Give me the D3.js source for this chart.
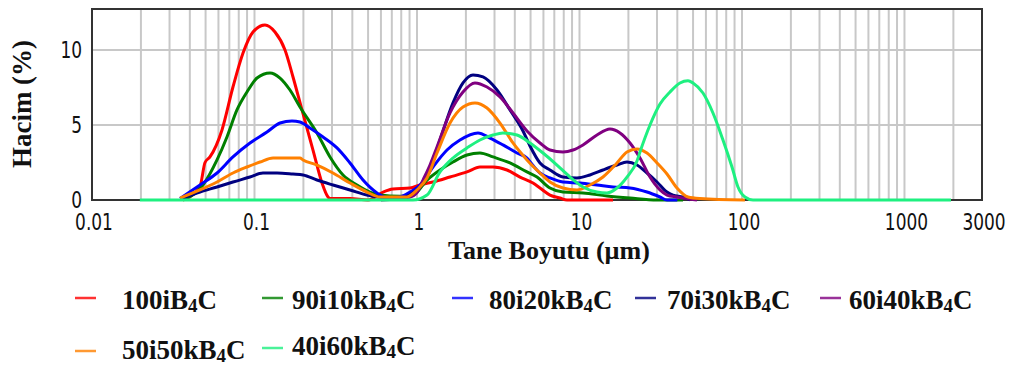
<!DOCTYPE html>
<html>
<head>
<meta charset="utf-8">
<script src="https://cdn.jsdelivr.net/npm/d3@7"></script>
<style>
  html, body { margin: 0; padding: 0; background: #fff; }
  svg { display: block; }
</style>
</head>
<body>
<svg id="chart" width="1017" height="365"></svg>
<script>
// Particle size distributions (size in µm, volume in %)
const sizeTicks = [0.01, 0.1, 1, 10, 100, 1000, 3000];
const volumeTicks = [0, 5, 10];

const seriesNames = ["100iB4C", "90i10kB4C", "80i20kB4C", "70i30kB4C", "60i40kB4C", "50i50kB4C", "40i60kB4C"];
const seriesColors = ["#ff0000", "#008000", "#0000ff", "#000080", "#800080", "#ff8000", "#1ef080"];

const s100i = [
  [0.0363, 0], [0.0462, 0.9], [0.0496, 2.5], [0.0532, 2.87], [0.0631, 4.67], [0.0737, 7.53],
  [0.085, 9.8], [0.0979, 11.2], [0.116, 11.67], [0.1337, 11.2], [0.1541, 10.0], [0.1726, 8.2],
  [0.196, 6.0], [0.2291, 3.33], [0.2603, 1.13], [0.2834, 0.2], [0.2915, 0.1], [0.387, 0.1],
  [0.5, 0], [0.6178, 0.53], [0.712, 0.73], [0.906, 0.8], [1.0435, 1.0], [1.2546, 1.2],
  [1.5964, 1.53], [2.031, 1.87], [2.4418, 2.2], [2.936, 2.2], [3.5805, 2.0], [4.3042, 1.53],
  [5.1748, 1.13], [5.714, 0.8], [6.5846, 0.33], [7.5858, 0.13], [8.3788, 0], [16.08, 0]
];
const s90i10k = [
  [0.0363, 0], [0.0482, 1.0], [0.0588, 2.67], [0.0677, 4.2], [0.078, 6.0], [0.0899, 7.2],
  [0.1036, 8.13], [0.1246, 8.47], [0.1436, 8.13], [0.1654, 7.33], [0.1905, 6.2], [0.2424, 4.47],
  [0.2915, 2.87], [0.3505, 1.67], [0.4273, 1.0], [0.5138, 0.53], [0.592, 0.33], [0.786, 0.25],
  [0.945, 0.33], [1.1522, 1.33], [1.3856, 2.0], [1.6657, 2.53], [2.031, 3.0], [2.4418, 3.13],
  [2.936, 2.87], [3.7365, 2.47], [4.7531, 1.87], [5.4768, 1.53], [6.5846, 0.8], [7.9163, 0.53],
  [10.51, 0.47], [14.76, 0.27], [20.46, 0.13], [29.99, 0], [43.35, 0]
];
const s80i20k = [
  [0.0348, 0.1], [0.0462, 1.0], [0.0588, 1.8], [0.0737, 2.87], [0.0938, 3.8], [0.1194, 4.53],
  [0.1436, 5.13], [0.1701, 5.27], [0.1905, 5.2], [0.2195, 4.8], [0.264, 4.2], [0.3219, 3.47],
  [0.387, 2.47], [0.4654, 1.33], [0.5674, 0.47], [0.6538, 0.13], [0.786, 0.2], [0.906, 0.53],
  [1.0435, 1.0], [1.2546, 2.2], [1.5298, 3.33], [1.839, 4.0], [2.3737, 4.47], [2.8136, 4.13],
  [3.383, 3.67], [4.1262, 3.13], [4.7531, 2.8], [5.1748, 2.3], [5.714, 1.8], [6.5846, 1.47],
  [7.9163, 1.2], [10.07, 1.13], [12.81, 1.0], [16.08, 0.87], [20.46, 0.8], [26.03, 0.53],
  [31.29, 0.2], [34.55, 0], [40, 0]
];
const s70i30k = [
  [0.0363, 0.13], [0.0462, 0.53], [0.0588, 0.87], [0.0737, 1.2], [0.0938, 1.53], [0.1128, 1.8],
  [0.1376, 1.8], [0.1726, 1.73], [0.1989, 1.67], [0.2424, 1.33], [0.3041, 1.0], [0.387, 0.67],
  [0.4924, 0.33], [0.5674, 0.2], [0.786, 0.13], [0.945, 0.47], [1.1522, 1.53], [1.3856, 4.0],
  [1.6657, 6.47], [1.919, 7.8], [2.2113, 8.33], [2.5479, 8.2], [3.1075, 7.33], [3.7365, 6.0],
  [4.4916, 4.6], [4.96, 3.6], [5.714, 2.47], [6.5846, 2.0], [7.9163, 1.53], [9.652, 1.47],
  [11.6, 1.67], [13.95, 2.0], [17.01, 2.33], [19.6, 2.53], [22.59, 2.33], [26.03, 1.8],
  [29.99, 1.2], [34.55, 0.53], [37.62, 0.33], [43.35, 0.2], [47.86, 0]
];
const s60i40k = [
  [0.6, 0], [0.906, 0.2], [1.0, 0.5], [1.0888, 1.33], [1.2023, 2.33], [1.3278, 3.53],
  [1.5964, 5.8], [1.919, 7.2], [2.275, 7.8], [2.6967, 7.53], [3.2424, 6.87], [3.8985, 5.8],
  [4.7531, 4.6], [5.714, 3.8], [6.5846, 3.33], [7.9163, 3.2], [9.12, 3.33], [10.51, 3.67],
  [12.81, 4.33], [15.4, 4.73], [17.75, 4.47], [20.46, 3.8], [23.57, 2.8], [27.16, 1.53],
  [31.29, 0.67], [34.55, 0.33], [39.81, 0.2], [52.86, 0]
];
const s50i50k = [
  [0.0348, 0.13], [0.0462, 0.67], [0.0588, 1.2], [0.0737, 1.8], [0.0899, 2.2], [0.1081, 2.53],
  [0.13, 2.8], [0.1905, 2.8], [0.1989, 2.67], [0.2424, 2.33], [0.3041, 1.8], [0.387, 1.13],
  [0.4924, 0.53], [0.592, 0.2], [0.868, 0.2], [1.0, 0.67], [1.1522, 1.47], [1.3278, 3.13],
  [1.5964, 5.13], [1.919, 6.2], [2.275, 6.47], [2.6967, 6.13], [3.2424, 5.13], [3.8985, 3.8],
  [4.7531, 2.67], [5.714, 1.8], [6.5846, 1.2], [7.9163, 0.8], [9.652, 0.67], [11.6, 1.0],
  [13.95, 1.53], [17.01, 2.47], [19.6, 3.2], [22.59, 3.4], [26.03, 3.13], [29.99, 2.47],
  [34.55, 1.73], [39.81, 0.8], [46.54, 0.2], [55, 0.1], [104.3, 0]
];
const s40i60k = [
  [0.0197, 0], [0.945, 0], [1.1522, 0.33], [1.3856, 1.87], [1.6657, 2.8], [2.031, 3.47],
  [2.4418, 4.0], [2.936, 4.33], [3.383, 4.47], [4.1262, 4.33], [4.96, 3.8], [5.9635, 3.13],
  [7.27, 2.33], [8.7429, 1.53], [10.51, 0.87], [12.81, 0.53], [14.76, 0.47], [17.01, 0.8],
  [19.6, 1.53], [22.59, 2.6], [23.57, 3.2], [27.16, 5.0], [31.29, 6.4], [36.06, 7.2],
  [41.54, 7.8], [46.54, 7.95], [49.94, 7.8], [57.54, 7.13], [66.3, 5.8], [76.4, 4.0],
  [86.8, 2.2], [94.5, 0.87], [104.3, 0.2], [116.9, 0], [1933, 0]
];

const seriesData = [s100i, s90i10k, s80i20k, s70i30k, s60i40k, s50i50k, s40i60k];

const svg = d3.select("#chart");
const plotLeft = 92, plotRight = 982, plotTop = 9, plotBottom = 200;

const x = d3.scaleLog().domain([0.01, 3000]).range([plotLeft, plotRight]);
const y = d3.scaleLinear().domain([0, 12.73]).range([plotBottom, plotTop]);

// grid
const minor = x.ticks().filter(d => d > 0.01 && d < 3000);
svg.append("g")
  .selectAll("line").data(minor).join("line")
  .attr("x1", d => x(d)).attr("x2", d => x(d))
  .attr("y1", plotTop).attr("y2", plotBottom)
  .attr("stroke", "#c8c8c8").attr("stroke-width", 2);
svg.append("g")
  .selectAll("line").data(volumeTicks.filter(d => d > 0)).join("line")
  .attr("x1", plotLeft).attr("x2", plotRight)
  .attr("y1", d => y(d)).attr("y2", d => y(d))
  .attr("stroke", "#c8c8c8").attr("stroke-width", 2);

// frame
svg.append("rect")
  .attr("x", plotLeft).attr("y", plotTop)
  .attr("width", plotRight - plotLeft).attr("height", plotBottom - plotTop)
  .attr("fill", "none").attr("stroke", "#333").attr("stroke-width", 2);

// curves
const line = d3.line()
  .x(d => x(d[0]))
  .y(d => y(d[1]))
  .curve(d3.curveMonotoneX);

svg.append("g")
  .selectAll("path").data(seriesData).join("path")
  .attr("d", line)
  .attr("fill", "none")
  .attr("stroke", (d, i) => seriesColors[i])
  .attr("stroke-width", 3)
  .attr("stroke-linejoin", "round");

// axis tick labels
const tickFont = "'DejaVu Sans', sans-serif";
svg.append("g")
  .selectAll("text").data(sizeTicks).join("text")
  .attr("transform", d => `translate(${x(d) + 2},${229.5}) scale(1,1.38)`)
  .attr("text-anchor", "middle")
  .attr("font-family", tickFont).attr("font-size", 17)
  .attr("fill", "#111")
  .text(d => d3.format("~g")(d));

svg.append("g")
  .selectAll("text").data(volumeTicks).join("text")
  .attr("transform", d => `translate(82,${y(d) + 8}) scale(1,1.38)`)
  .attr("text-anchor", "end")
  .attr("font-family", tickFont).attr("font-size", 17)
  .attr("fill", "#111")
  .text(d => d);

// axis titles
const titleFont = "'Liberation Serif', 'Times New Roman', serif";
svg.append("text")
  .attr("transform", "translate(31,104) rotate(-90)")
  .attr("text-anchor", "middle")
  .attr("font-family", titleFont).attr("font-weight", "bold").attr("font-size", 27)
  .attr("fill", "#111")
  .text("Hacim (%)");

svg.append("text")
  .attr("x", 549).attr("y", 259)
  .attr("text-anchor", "middle")
  .attr("font-family", titleFont).attr("font-weight", "bold").attr("font-size", 26)
  .attr("fill", "#111")
  .text("Tane Boyutu (µm)");

// legend
const legendPos = [
  { lx: 75, ly: 298, tx: 122, ty: 309 },
  { lx: 262, ly: 298, tx: 292, ty: 309 },
  { lx: 452, ly: 298, tx: 489, ty: 309 },
  { lx: 635, ly: 298, tx: 667, ty: 309 },
  { lx: 820, ly: 298, tx: 849, ty: 309 },
  { lx: 75, ly: 351, tx: 122, ty: 359 },
  { lx: 262, ly: 348, tx: 292, ty: 355 }
];
const legend = svg.append("g");
seriesNames.forEach((name, i) => {
  const p = legendPos[i];
  legend.append("line")
    .attr("x1", p.lx).attr("x2", p.lx + 21)
    .attr("y1", p.ly).attr("y2", p.ly)
    .attr("stroke", seriesColors[i]).attr("stroke-width", 2.5).attr("opacity", 0.8);
  const m = name.match(/^(.*B)(4)(C)$/);
  const t = legend.append("text")
    .attr("x", p.tx).attr("y", p.ty)
    .attr("font-family", titleFont).attr("font-weight", "bold").attr("font-size", 27)
    .attr("fill", "#111");
  t.append("tspan").text(m[1]);
  t.append("tspan").attr("font-size", 19).attr("dy", 3).text(m[2]);
  t.append("tspan").attr("dy", -3).text(m[3]);
});
</script>
</body>
</html>
